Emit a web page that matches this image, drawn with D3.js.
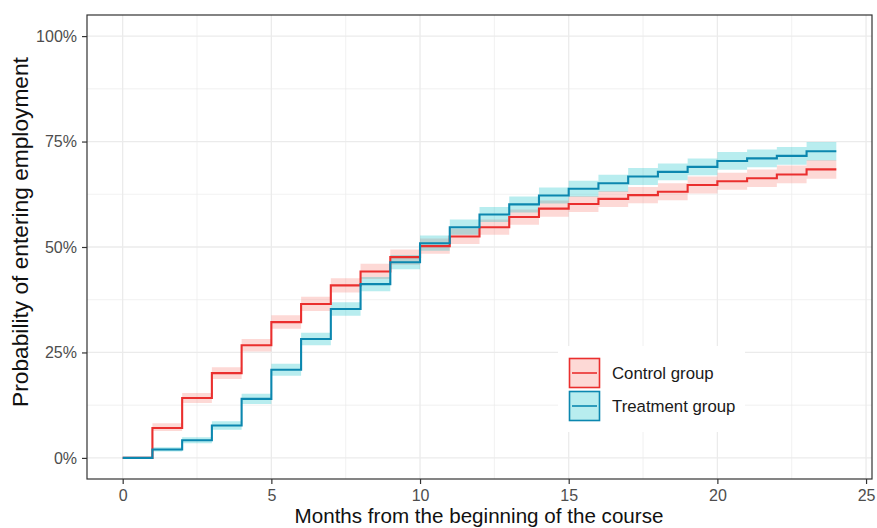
<!DOCTYPE html>
<html>
<head>
<meta charset="utf-8">
<script src="https://cdn.jsdelivr.net/npm/d3@7"></script>
<style>
  html, body { margin: 0; padding: 0; background: #ffffff; }
  svg { display: block; font-family: "Liberation Sans", Arial, sans-serif; }
</style>
</head>
<body>
<svg id="chart" width="877" height="528"></svg>
<script>
// ---------------- data ----------------
const months = [0,1,2,3,4,5,6,7,8,9,10,11,12,13,14,15,16,17,18,19,20,21,22,23,24];

const controlEst  = [0,7.1,14.2,20.1,26.7,32.2,36.5,40.9,44.2,47.6,50.2,52.5,54.7,57.1,59.1,60.2,61.4,62.3,63.1,64.7,65.6,66.3,67.2,68.4,68.4];
const controlLow  = [0,6.4,13.0,18.7,25.2,30.6,34.8,39.2,42.4,45.8,48.4,50.7,52.9,55.3,57.2,58.3,59.5,60.4,61.1,62.7,63.6,64.2,65.1,66.2,66.2];
const controlHigh = [0,8.2,15.4,21.5,28.2,33.8,38.2,42.6,46.0,49.4,52.0,54.3,56.5,58.9,61.0,62.1,63.3,64.2,65.1,66.7,67.6,68.4,69.3,70.6,70.6];

const treatEst  = [0,2.0,4.2,7.7,14.0,20.9,28.2,35.3,41.2,46.4,50.9,54.7,57.7,60.1,62.2,63.8,65.1,66.7,67.8,69.0,70.4,71.0,71.6,72.7,72.7];
const treatLow  = [0,1.5,3.5,6.7,12.8,19.5,26.7,33.7,39.5,44.7,49.1,52.9,55.9,58.2,60.3,61.9,63.1,64.7,65.8,67.0,68.3,68.9,69.5,70.5,70.5];
const treatHigh = [0,2.5,4.9,8.7,15.2,22.3,29.7,36.9,42.9,48.1,52.7,56.5,59.5,62.0,64.1,65.7,67.1,68.7,69.8,71.0,72.5,73.1,73.7,74.9,74.9];

const groupNames = ["Control group", "Treatment group"];
const xTicks = [0,5,10,15,20,25];
const xMinor = [2.5,7.5,12.5,17.5,22.5];
const yTicks = [0,25,50,75,100];
const yMinor = [12.5,37.5,62.5,87.5];
const xTitle = "Months from the beginning of the course";
const yTitle = "Probability of entering employment";

// ---------------- layout ----------------
const svg = d3.select("#chart");
const panel = {left: 87, right: 872, top: 15, bottom: 479};

const x = d3.scaleLinear().domain([-1.2, 25.2]).range([panel.left, panel.right]);
const y = d3.scaleLinear().domain([-5, 105]).range([panel.bottom, panel.top]);

const colors = {
  control: {line: "#EA2F2E", fill: "#F8766D"},
  treat:   {line: "#0B87AF", fill: "#00BFC4"}
};

svg.append("rect").attr("x", 0).attr("y", 0).attr("width", 877).attr("height", 528).attr("fill", "#ffffff");

// grid
const grid = svg.append("g");
grid.selectAll(".xminor").data(xMinor).enter().append("line")
  .attr("x1", d => x(d)).attr("x2", d => x(d))
  .attr("y1", panel.top).attr("y2", panel.bottom)
  .attr("stroke", "#EBEBEB").attr("stroke-width", 0.7);
grid.selectAll(".yminor").data(yMinor).enter().append("line")
  .attr("y1", d => y(d)).attr("y2", d => y(d))
  .attr("x1", panel.left).attr("x2", panel.right)
  .attr("stroke", "#EBEBEB").attr("stroke-width", 0.7);
grid.selectAll(".xmajor").data(xTicks).enter().append("line")
  .attr("x1", d => x(d)).attr("x2", d => x(d))
  .attr("y1", panel.top).attr("y2", panel.bottom)
  .attr("stroke", "#EBEBEB").attr("stroke-width", 1.3);
grid.selectAll(".ymajor").data(yTicks).enter().append("line")
  .attr("y1", d => y(d)).attr("y2", d => y(d))
  .attr("x1", panel.left).attr("x2", panel.right)
  .attr("stroke", "#EBEBEB").attr("stroke-width", 1.3);

// ribbons + lines
function series(est, lo, hi) {
  return months.map((m, i) => ({m, est: est[i], lo: lo[i], hi: hi[i]}));
}
const data = [
  {key: "control", values: series(controlEst, controlLow, controlHigh)},
  {key: "treat",   values: series(treatEst, treatLow, treatHigh)}
];

const area = d3.area().curve(d3.curveStepAfter)
  .x(d => x(d.m)).y0(d => y(d.lo)).y1(d => y(d.hi));
const line = d3.line().curve(d3.curveStepAfter)
  .x(d => x(d.m)).y(d => y(d.est));

const plot = svg.append("g");
data.forEach(s => {
  plot.append("path").datum(s.values.slice(1))
    .attr("d", area)
    .attr("fill", colors[s.key].fill).attr("fill-opacity", 0.28);
});
data.forEach(s => {
  plot.append("path").datum(s.values)
    .attr("d", line)
    .attr("fill", "none")
    .attr("stroke", colors[s.key].line).attr("stroke-width", 2.1);
});

// legend
const lg = svg.append("g");
lg.append("rect").attr("x", 558).attr("y", 346).attr("width", 187).attr("height", 86).attr("fill", "#ffffff");
const keys = [
  {key: "control", yTop: 358, label: groupNames[0]},
  {key: "treat",   yTop: 391, label: groupNames[1]}
];
keys.forEach(k => {
  lg.append("rect").attr("x", 569.5).attr("y", k.yTop + 0.5).attr("width", 30).attr("height", 29)
    .attr("fill", colors[k.key].fill).attr("fill-opacity", 0.28)
    .attr("stroke", colors[k.key].line).attr("stroke-width", 1.6);
  lg.append("line").attr("x1", 572).attr("x2", 597)
    .attr("y1", k.yTop + 15).attr("y2", k.yTop + 15)
    .attr("stroke", colors[k.key].line).attr("stroke-width", 1.6);
  lg.append("text").attr("x", 612).attr("y", k.yTop + 15).attr("dy", "0.35em")
    .attr("font-size", 16.8).attr("fill", "#1a1a1a").text(k.label);
});

// panel border
svg.append("rect").attr("x", panel.left).attr("y", panel.top)
  .attr("width", panel.right - panel.left).attr("height", panel.bottom - panel.top)
  .attr("fill", "none").attr("stroke", "#333333").attr("stroke-width", 1.2);

// axes
const xAxis = d3.axisBottom(x).tickValues(xTicks).tickSize(5).tickPadding(6).tickFormat(d3.format("d"));
const gx = svg.append("g").attr("transform", `translate(0,${panel.bottom})`).call(xAxis);
gx.select(".domain").remove();
gx.selectAll(".tick line").attr("stroke", "#333333").attr("stroke-width", 1.2);
gx.selectAll(".tick text").attr("font-size", 16).attr("fill", "#4D4D4D")
  .attr("font-family", "'Liberation Sans', Arial, sans-serif");

const yAxis = d3.axisLeft(y).tickValues(yTicks).tickSize(5).tickPadding(5).tickFormat(d => d + "%");
const gy = svg.append("g").attr("transform", `translate(${panel.left},0)`).call(yAxis);
gy.select(".domain").remove();
gy.selectAll(".tick line").attr("stroke", "#333333").attr("stroke-width", 1.2);
gy.selectAll(".tick text").attr("font-size", 16).attr("fill", "#4D4D4D")
  .attr("font-family", "'Liberation Sans', Arial, sans-serif");

// titles (font size fitted to the measured length in the reference)
function fitText(sel, target) {
  const len = sel.node().getComputedTextLength();
  const fs = parseFloat(sel.attr("font-size"));
  sel.attr("font-size", (fs * target / len).toFixed(2));
}
const xt = svg.append("text").attr("x", 479).attr("y", 522.5)
  .attr("text-anchor", "middle").attr("font-size", 20).attr("fill", "#111111").text(xTitle);
fitText(xt, 369);
const yt = svg.append("text")
  .attr("transform", `translate(28,232) rotate(-90)`)
  .attr("text-anchor", "middle").attr("font-size", 20).attr("fill", "#111111").text(yTitle);
fitText(yt, 350);
</script>
</body>
</html>
